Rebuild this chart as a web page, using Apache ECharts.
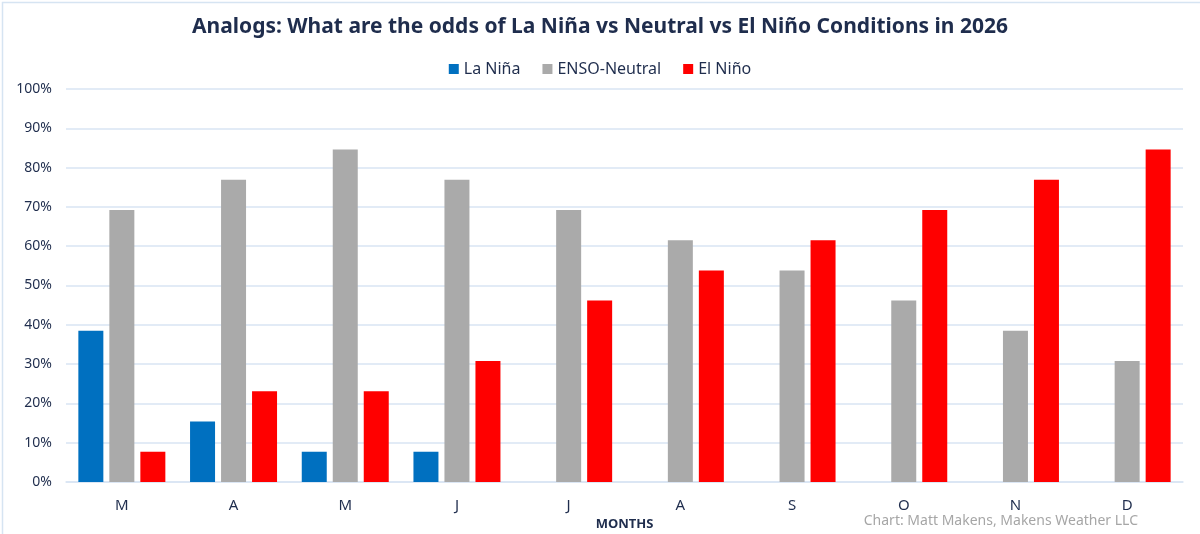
<!DOCTYPE html>
<html><head><meta charset="utf-8">
<script src="https://cdn.jsdelivr.net/npm/echarts@6/dist/echarts.min.js"></script>
<style>html,body{margin:0;padding:0;background:#fff;overflow:hidden}#c{width:1200px;height:534px}</style>
</head><body><div id="c"></div>
<script>
const months = ['M','A','M','J','J','A','S','O','N','D'];
const laNina = [38.5, 15.4, 7.7, 7.7, 0, 0, 0, 0, 0, 0];
const neutral = [69.2, 76.9, 84.6, 76.9, 69.2, 61.5, 53.8, 46.2, 38.5, 30.8];
const elNino = [7.7, 23.1, 23.1, 30.8, 46.2, 53.8, 61.5, 69.2, 76.9, 84.6];

const txt = '#1f2d4d';
const font = '"Noto Sans", "Open Sans", sans-serif';
const chart = echarts.init(document.getElementById('c'), null, {renderer:'canvas'});
chart.setOption({
  animation:false,
  textStyle:{fontFamily:font},
  title:{text:'Analogs: What are the odds of La Niña vs Neutral vs El Niño Conditions in 2026',
    left:'center', top:12, textStyle:{fontSize:21, fontWeight:'bold', color:txt, fontFamily:font}},
  legend:{top:56, left:'center', itemWidth:10, itemHeight:10, itemGap:22, icon:'rect',
    textStyle:{fontSize:16, color:txt, fontFamily:font}},
  grid:{left:66, right:17, top:89, bottom:52, containLabel:false, outerBoundsMode:'none'},
  xAxis:{type:'category', data:months, axisTick:{show:false},
    axisLine:{lineStyle:{color:'#d9e5f3', width:1.5}},
    axisLabel:{fontSize:15, color:txt, margin:16},
    name:'MONTHS', nameLocation:'middle', nameGap:35,
    nameTextStyle:{fontSize:13, fontWeight:'bold', color:txt}},
  yAxis:{type:'value', min:0, max:100, interval:10,
    axisLabel:{formatter:v=>v+'%', fontSize:14, color:txt, margin:14},
    splitLine:{lineStyle:{color:'#d9e5f3', width:1.5}},
    axisLine:{show:false}, axisTick:{show:false}},
  series:[
    {name:'La Niña', type:'bar', data:laNina, barWidth:25, barGap:'24%', itemStyle:{color:'#0070c0'}},
    {name:'ENSO-Neutral', type:'bar', data:neutral, barWidth:25, barGap:'24%', itemStyle:{color:'#aaaaaa'}},
    {name:'El Niño', type:'bar', data:elNino, barWidth:25, barGap:'24%', itemStyle:{color:'#ff0000'}}
  ],
  graphic:[
    {type:'rect', left:0, top:0, shape:{x:0.5, y:0.5, width:1199, height:533}, silent:true,
      style:{fill:null, stroke:'#d6e4f2', lineWidth:1.5}},
    {type:'text', right:62, top:514, style:{text:'Chart: Matt Makens, Makens Weather LLC',
      fontSize:14, fill:'#a6a6a6', fontFamily:font}}]
});
</script></body></html>
